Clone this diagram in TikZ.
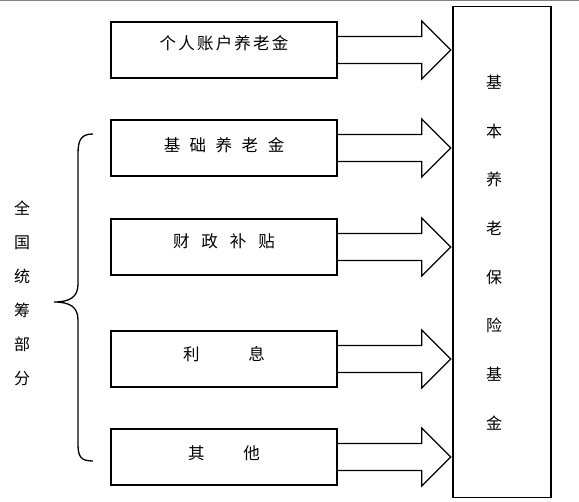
\documentclass[tikz,border=0pt]{standalone}
\usepackage{fontspec}
\setmainfont{Noto Sans CJK SC}
\usetikzlibrary{calc}
\begin{document}
\begin{tikzpicture}[x=1pt,y=-1pt,
  srcbox/.style={draw,line width=1.6pt,minimum width=226pt,minimum height=56pt,inner sep=0pt,
    font=\fontsize{16.5pt}{18pt}\selectfont},
  fundbox/.style={draw,line width=1.6pt,minimum width=98pt,minimum height=491pt,inner sep=0pt},
  blockarr/.style={draw,line width=1.2pt,line join=miter},
  bracestyle/.style={draw,line width=1.3pt},
  vtext/.style={align=center,inner sep=0pt}
]
\useasboundingbox (0,0) rectangle (579,502);
\draw[gray,line width=1pt] (0,0.5) -- (579,0.5);

\node[srcbox] (b1) at (224,50) {\raisebox{14pt}{个\hspace{2.2pt}人\hspace{2.2pt}账\hspace{2.2pt}户\hspace{2.2pt}养\hspace{2.2pt}老\hspace{2.2pt}金}};
\node[srcbox] (b2) at (224,148) {\raisebox{8pt}{基\hspace{9.5pt}础\hspace{9.5pt}养\hspace{9.5pt}老\hspace{9.5pt}金}};
\node[srcbox] (b3) at (224,247) {\raisebox{12pt}{财\hspace{12pt}政\hspace{12pt}补\hspace{12pt}贴}};
\node[srcbox] (b4) at (224,359) {\raisebox{12pt}{利\hspace{49pt}息}};
\node[srcbox] (b5) at (224,457) {\raisebox{8pt}{其\hspace{39pt}他}};

\node[fundbox] (fund) at (502,252) {};
\node[vtext,font=\fontsize{16pt}{48.7pt}\selectfont] (fundtext) at (494,252.5)
  {基\\本\\养\\老\\保\\险\\基\\金};

\node[vtext,font=\fontsize{16pt}{34pt}\selectfont] (side) at (22,293)
  {全\\国\\统\\筹\\部\\分};

\foreach \b in {b1,b2,b3,b4,b5}{
  \coordinate (s) at (\b.east);
  \coordinate (t) at ($(fund.west |- \b.east)+(-1.5pt,0pt)$);
  \draw[blockarr] ($(s)+(0pt,13.5pt)$) -- ($(t)+(-29pt,13.5pt)$) -- ($(t)+(-29pt,29pt)$)
    -- (t) -- ($(t)+(-29pt,-29pt)$) -- ($(t)+(-29pt,-13.5pt)$) -- ($(s)+(0pt,-13.5pt)$);
}

\coordinate (brtop) at (93,134);
\coordinate (brtip) at (54,302);
\coordinate (brbot) at (93,461);
\draw[bracestyle] (brtop) .. controls (81,134) and (78,140) .. (78,154) -- (78,284)
  .. controls (78,297) and (70,302) .. (brtip)
  .. controls (70,302) and (78,307) .. (78,320) -- (78,444)
  .. controls (78,457) and (81,461) .. (brbot);
\end{tikzpicture}
\end{document}
